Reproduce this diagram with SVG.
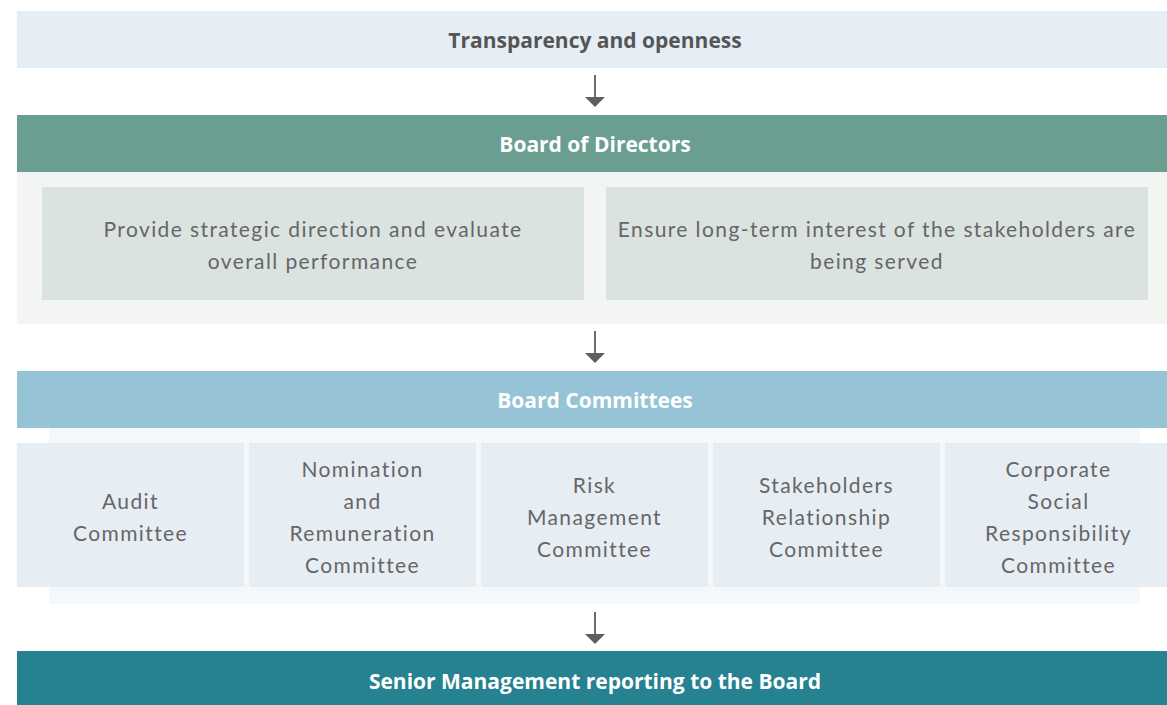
<svg xmlns="http://www.w3.org/2000/svg" width="1167" height="705" viewBox="0 0 1167 705">
<defs>
<style>
.hd{font-family:"Open Sans","Liberation Sans",sans-serif;font-weight:bold;font-size:21px;text-anchor:middle}
.tx{font-family:Lato,"Liberation Sans",sans-serif;font-size:21px;fill:#666;text-anchor:middle;letter-spacing:1.4px}
.conn{stroke:#6b6b6b;stroke-width:2;fill:none}
</style>
<marker id="ah" viewBox="0 0 10 20" refX="0" refY="10" markerWidth="10" markerHeight="20" markerUnits="userSpaceOnUse" orient="auto">
<path d="M0,0 L10,10 L0,20 Z" fill="#5f5f5f"/>
</marker>
</defs>
<rect width="1167" height="705" fill="#fff"/>
<g id="transparency">
<rect x="17" y="11" width="1150" height="57" fill="#e6eef5"/>
<text class="hd" x="595" y="48" fill="#555">Transparency and openness</text>
</g>
<g id="board">
<rect x="17" y="172" width="1150" height="152" fill="#f3f5f2"/>
<rect x="17" y="115" width="1150" height="57" fill="#6a9e90"/>
<text class="hd" x="595" y="152" fill="#fff">Board of Directors</text>
</g>
<g id="board-strategic">
<rect x="42" y="187" width="542" height="113" fill="#dae3e0"/>
<text class="tx" x="313" y="237">Provide strategic direction and evaluate</text>
<text class="tx" x="313" y="269">overall performance</text>
</g>
<g id="board-stakeholders">
<rect x="606" y="187" width="542" height="113" fill="#dae3e0"/>
<text class="tx" x="877" y="237">Ensure long-term interest of the stakeholders are</text>
<text class="tx" x="877" y="269">being served</text>
</g>
<g id="committees">
<rect x="49" y="428" width="1091" height="176" fill="#f5f8fa"/>
<rect x="17" y="371" width="1150" height="57" fill="#96c4d6"/>
<text class="hd" x="595" y="408" fill="#fff">Board Committees</text>
</g>
<g id="audit">
<rect x="17" y="443" width="227" height="144" fill="#e6edf3"/>
<text class="tx" x="130.5" y="509">Audit</text>
<text class="tx" x="130.5" y="541">Committee</text>
</g>
<g id="nomination">
<rect x="249" y="443" width="227" height="144" fill="#e6edf3"/>
<text class="tx" x="362.5" y="477">Nomination</text>
<text class="tx" x="362.5" y="509">and</text>
<text class="tx" x="362.5" y="541">Remuneration</text>
<text class="tx" x="362.5" y="573">Committee</text>
</g>
<g id="risk">
<rect x="481" y="443" width="227" height="144" fill="#e6edf3"/>
<text class="tx" x="594.5" y="493">Risk</text>
<text class="tx" x="594.5" y="525">Management</text>
<text class="tx" x="594.5" y="557">Committee</text>
</g>
<g id="stakeholders">
<rect x="713" y="443" width="227" height="144" fill="#e6edf3"/>
<text class="tx" x="826.5" y="493">Stakeholders</text>
<text class="tx" x="826.5" y="525">Relationship</text>
<text class="tx" x="826.5" y="557">Committee</text>
</g>
<g id="csr">
<rect x="945" y="443" width="222" height="144" fill="#e6edf3"/>
<text class="tx" x="1058.5" y="477">Corporate</text>
<text class="tx" x="1058.5" y="509">Social</text>
<text class="tx" x="1058.5" y="541">Responsibility</text>
<text class="tx" x="1058.5" y="573">Committee</text>
</g>
<g id="senior">
<rect x="17" y="651" width="1150" height="54" fill="#268290"/>
<text class="hd" x="595" y="689" fill="#fff">Senior Management reporting to the Board</text>
</g>
<g id="connectors">
<line class="conn" x1="595" y1="75" x2="595" y2="97" marker-end="url(#ah)"/>
<line class="conn" x1="595" y1="331" x2="595" y2="353" marker-end="url(#ah)"/>
<line class="conn" x1="595" y1="612" x2="595" y2="634" marker-end="url(#ah)"/>
</g>
</svg>
